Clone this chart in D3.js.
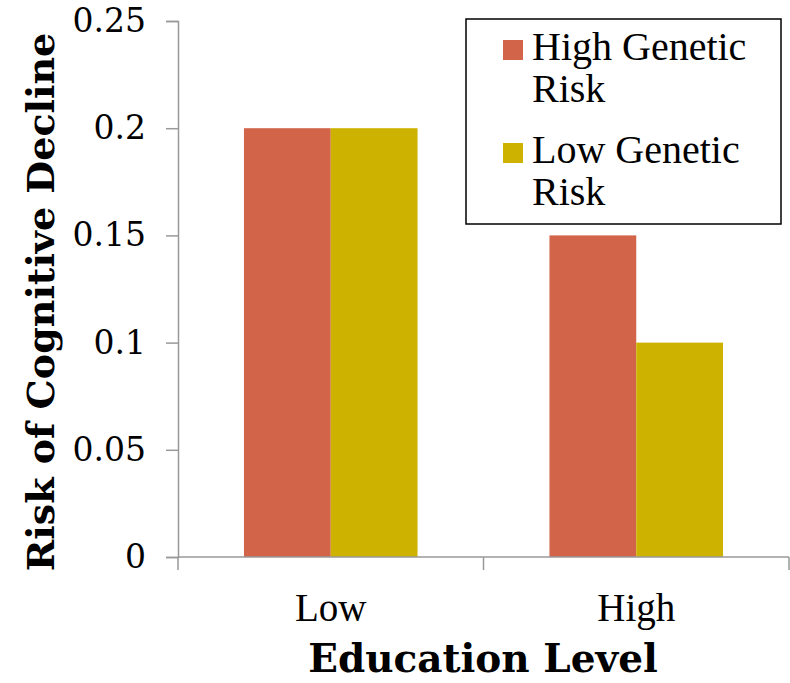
<!DOCTYPE html>
<html>
<head>
<meta charset="utf-8">
<script src="https://cdn.jsdelivr.net/npm/d3@7"></script>
<style>
  body { margin: 0; background: #fff; }
  svg { display: block; }
  .times { font-family: "Liberation Serif", "Times New Roman", Times, serif; }
  .bold { font-family: "DejaVu Serif", Georgia, serif; font-weight: bold; }
</style>
</head>
<body>
<svg id="chart" width="790" height="683"></svg>
<script>
// Chart data
const categories = ['Low', 'High'];
const seriesNames = ['High Genetic Risk', 'Low Genetic Risk'];
const highGenetic = [0.2, 0.15];
const lowGenetic = [0.2, 0.1];
const yTicks = [0, 0.05, 0.1, 0.15, 0.2, 0.25];
const colors = ['#D2644A', '#CDB300'];

const svg = d3.select('#chart');
const plotLeft = 178, plotRight = 789, plotTop = 21, plotBottom = 557;

// Scales
const x = d3.scaleBand().domain(categories).range([plotLeft, plotRight]).padding(0);
const xSub = d3.scaleBand().domain(seriesNames)
    .range([0, x.bandwidth()]).paddingInner(0).paddingOuter(0.76);
const y = d3.scaleLinear().domain([0, 0.25]).range([plotBottom, plotTop]);

const rows = categories.map((c, i) => ({
    cat: c,
    vals: [highGenetic[i], lowGenetic[i]]
}));

// Bars
const groups = svg.selectAll('g.grp')
    .data(rows)
    .join('g')
    .attr('class', 'grp')
    .attr('transform', d => `translate(${x(d.cat)},0)`);

groups.selectAll('rect')
    .data(d => d.vals.map((v, j) => ({ name: seriesNames[j], v, j })))
    .join('rect')
    .attr('x', d => xSub(d.name))
    .attr('width', xSub.bandwidth())
    .attr('y', d => y(d.v))
    .attr('height', d => y(0) - y(d.v))
    .attr('fill', d => colors[d.j]);

// Y axis
const yAxis = svg.append('g')
    .attr('transform', `translate(${plotLeft},0)`)
    .call(d3.axisLeft(y).tickValues(yTicks).tickSize(12).tickPadding(20)
        .tickFormat(d => d === 0 ? '0' : String(+d.toFixed(2))));
yAxis.select('.domain').attr('stroke', '#999').attr('stroke-width', 1.5);
yAxis.selectAll('.tick line').attr('stroke', '#999').attr('stroke-width', 1.5);
yAxis.selectAll('.tick text')
    .attr('fill', '#000')
    .attr('font-family', null)
    .attr('font-size', null)
    .style('font-family', '"DejaVu Serif", Georgia, serif')
    .style('font-size', '33px');

// X axis (baseline + ticks at band edges)
svg.append('line')
    .attr('x1', plotLeft).attr('x2', plotRight)
    .attr('y1', plotBottom).attr('y2', plotBottom)
    .attr('stroke', '#999').attr('stroke-width', 1.5);
const edges = categories.map(c => x(c)).concat([x(categories[categories.length - 1]) + x.bandwidth()]);
svg.selectAll('line.xtick')
    .data(edges)
    .join('line')
    .attr('class', 'xtick')
    .attr('x1', d => Math.min(d, plotRight)).attr('x2', d => Math.min(d, plotRight))
    .attr('y1', plotBottom).attr('y2', plotBottom + 13)
    .attr('stroke', '#999').attr('stroke-width', 1.5);

svg.selectAll('text.xlab')
    .data(categories)
    .join('text')
    .attr('class', 'xlab times')
    .attr('x', d => x(d) + x.bandwidth() / 2)
    .attr('y', 621)
    .attr('text-anchor', 'middle')
    .style('font-size', '39px')
    .text(d => d);

// Axis titles
svg.append('text')
    .attr('class', 'bold')
    .attr('x', 483).attr('y', 672)
    .attr('text-anchor', 'middle')
    .style('font-size', '39px')
    .text('Education Level');

svg.append('text')
    .attr('class', 'bold')
    .attr('transform', 'translate(54,302) rotate(-90)')
    .attr('text-anchor', 'middle')
    .style('font-size', '38px')
    .text('Risk of Cognitive Decline');

// Legend
const legend = svg.append('g');
legend.append('rect')
    .attr('x', 466).attr('y', 19)
    .attr('width', 315).attr('height', 205)
    .attr('fill', '#fff').attr('stroke', '#000').attr('stroke-width', 1.5);

const legendItems = legend.selectAll('g.item')
    .data(seriesNames)
    .join('g')
    .attr('class', 'item')
    .attr('transform', (d, i) => `translate(503,${40 + i * 103})`);

legendItems.append('rect')
    .attr('width', 20).attr('height', 20)
    .attr('fill', (d, i) => colors[i]);

legendItems.append('text')
    .attr('class', 'times')
    .attr('x', 29)
    .style('font-size', '40px')
    .selectAll('tspan')
    .data(d => [d.replace(' Risk', ''), 'Risk'])
    .join('tspan')
    .attr('x', 29)
    .attr('y', (d, i) => 20 + i * 42)
    .text(d => d);
</script>
</body>
</html>
